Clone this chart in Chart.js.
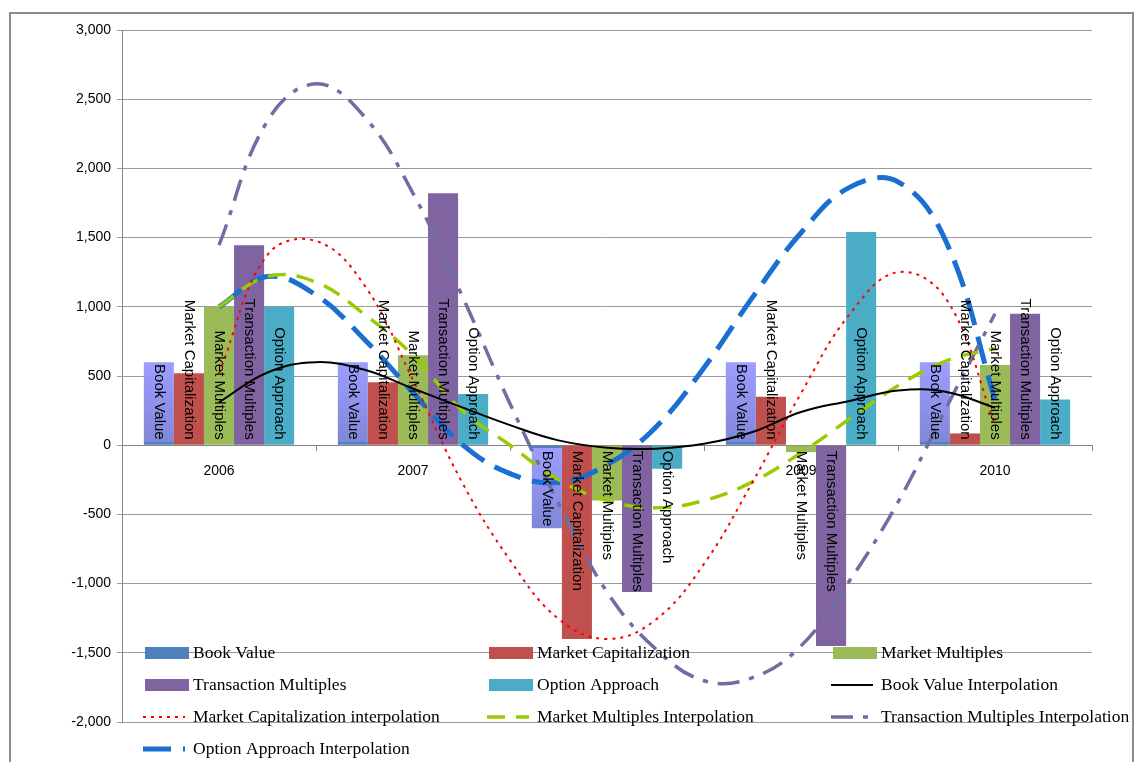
<!DOCTYPE html>
<html>
<head>
<meta charset="utf-8">
<script src="https://cdn.jsdelivr.net/npm/chart.js@4.4.1/dist/chart.umd.min.js"></script>
<style>
  html, body { margin: 0; padding: 0; background: #ffffff; }
  canvas { display: block; }
</style>
</head>
<body>
<canvas id="chart" width="1135" height="762"></canvas>
<script>
// Valuation results per year
const categories = ['2006', '2007', '2008', '2009', '2010'];
const bookValue = [600, 600, -600, 600, 600];
const marketCap = [520, 455, -1400, 350, 85];
const marketMultiples = [1000, 650, -400, -50, 580];
const transactionMultiples = [1445, 1820, -1060, -1450, 950];
const optionApproach = [1000, 370, -170, 1540, 330];

// Smoothed interpolation curves, sampled every quarter year
const curveYears = [2006, 2006.25, 2006.5, 2006.75, 2007, 2007.25, 2007.5, 2007.75, 2008,
                    2008.25, 2008.5, 2008.75, 2009, 2009.25, 2009.5, 2009.75, 2010];
const bookValueCurve = [310, 525, 600, 545, 410, 275, 145, 35, -18, -25, 10, 95, 240, 320, 395, 385, 270];
const marketCapCurve = [520, 1375, 1475, 1155, 470, -260, -830, -1255, -1400, -1262, -858, -267, 375, 945, 1250, 1053, 150];
const marketMultiplesCurve = [1000, 1219, 1178, 945, 650, 255, 0, -250, -400, -452, -400, -265, -55, 190, 430, 610, 700];
const transactionCurve = [1445, 2344, 2611, 2373, 1820, 1089, 300, -420, -1060, -1471, -1702, -1680, -1450, -980, -411, 274, 950];
const optionCurve = [1000, 1219, 1085, 764, 380, 10, -205, -270, -140, 128, 560, 1068, 1535, 1863, 1903, 1464, 330];

// Y axis ticks
const yMin = -2000, yMax = 3000, yStep = 500;

const years = categories.map(Number);
const toBars = vals => vals.map((v, i) => ({ x: years[i], y: v }));
const toPoints = vals => vals.map((v, i) => ({ x: curveYears[i], y: v }));

// Light periwinkle fill for Book Value bars with a darker strip at the base
function bookValueFill(ctx) {
  if (ctx.type !== 'data' || !ctx.chart.chartArea) return '#8C8CEB';
  const chart = ctx.chart;
  const ys = chart.scales.y;
  const value = ctx.raw.y;
  const y0 = ys.getPixelForValue(0);
  const y1 = ys.getPixelForValue(value);
  const top = Math.min(y0, y1), bot = Math.max(y0, y1);
  const h = Math.max(bot - top, 1);
  const f = Math.min(3 / h, 0.5);
  const g = chart.ctx.createLinearGradient(0, top, 0, bot);
  if (value >= 0) {
    g.addColorStop(0, '#9D9DFF');
    g.addColorStop(1 - f, '#8087D8');
    g.addColorStop(1 - f, '#4F81BD');
    g.addColorStop(1, '#4F81BD');
  } else {
    g.addColorStop(0, '#4F81BD');
    g.addColorStop(f, '#4F81BD');
    g.addColorStop(f, '#9D9DFF');
    g.addColorStop(1, '#8087D8');
  }
  return g;
}

const barCommon = { type: 'bar', order: 2, categoryPercentage: 0.775, barPercentage: 1.0, borderWidth: 0 };
const lineCommon = { type: 'line', order: 1, pointRadius: 0, tension: 0.4, fill: false };

// Background, outer frame, rotated bar captions and legend
const decorations = {
  id: 'decorations',
  beforeDraw(chart) {
    const c = chart.ctx;
    c.save();
    c.fillStyle = '#ffffff';
    c.fillRect(0, 0, chart.width, chart.height);
    c.strokeStyle = '#8c8c8c';
    c.lineWidth = 2;
    c.strokeRect(10, 13, 1123, 800);
    c.restore();
  },
  afterDatasetsDraw(chart) {
    const c = chart.ctx;
    c.save();
    c.font = '15px "Liberation Sans", Arial, sans-serif';
    c.fillStyle = '#000000';
    c.textBaseline = 'middle';
    chart.data.datasets.forEach((ds, di) => {
      if (ds.type !== 'bar') return;
      const meta = chart.getDatasetMeta(di);
      meta.data.forEach((el, i) => {
        const v = ds.data[i].y;
        c.save();
        c.translate(el.x, el.base);
        c.rotate(Math.PI / 2);
        if (v >= 0) {
          c.textAlign = 'right';
          c.fillText(ds.label, -5, 0);
        } else {
          c.textAlign = 'left';
          c.fillText(ds.label, 5, 0);
        }
        c.restore();
      });
    });
    c.restore();
  },
  afterDraw(chart) {
    const c = chart.ctx;
    const colX = [145, 489, 833];
    const rowY = [653, 685, 717, 749];
    c.save();
    c.font = '17.5px "Liberation Serif", "Times New Roman", serif';
    c.textBaseline = 'middle';
    c.textAlign = 'left';
    chart.data.datasets.forEach((ds, i) => {
      const x = colX[i % 3];
      const y = rowY[Math.floor(i / 3)];
      if (ds.type === 'bar') {
        c.fillStyle = ds.legendColor;
        c.fillRect(x, y - 6, 44, 12);
      } else {
        c.save();
        c.strokeStyle = ds.borderColor;
        c.lineWidth = ds.borderWidth;
        c.setLineDash(ds.borderDash || []);
        c.beginPath();
        c.moveTo(x - 2, y);
        c.lineTo(x + 40, y);
        c.stroke();
        c.restore();
      }
      c.fillStyle = '#000000';
      c.fillText(ds.label, x + 48, y);
    });
    c.restore();
  }
};

new Chart(document.getElementById('chart'), {
  data: {
    datasets: [
      { ...barCommon, label: 'Book Value', data: toBars(bookValue), backgroundColor: bookValueFill, legendColor: '#4F81BD' },
      { ...barCommon, label: 'Market Capitalization', data: toBars(marketCap), backgroundColor: '#C0504D', legendColor: '#C0504D' },
      { ...barCommon, label: 'Market Multiples', data: toBars(marketMultiples), backgroundColor: '#9BBB59', legendColor: '#9BBB59' },
      { ...barCommon, label: 'Transaction Multiples', data: toBars(transactionMultiples), backgroundColor: '#8064A2', legendColor: '#8064A2' },
      { ...barCommon, label: 'Option Approach', data: toBars(optionApproach), backgroundColor: '#4BACC6', legendColor: '#4BACC6' },
      { ...lineCommon, label: 'Book Value Interpolation', data: toPoints(bookValueCurve),
        borderColor: '#000000', borderWidth: 2 },
      { ...lineCommon, label: 'Market Capitalization interpolation', data: toPoints(marketCapCurve),
        borderColor: '#FF0000', borderWidth: 2, borderDash: [3, 5] },
      { ...lineCommon, label: 'Market Multiples Interpolation', data: toPoints(marketMultiplesCurve),
        borderColor: '#99CC00', borderWidth: 3.5, borderDash: [18, 11] },
      { ...lineCommon, label: 'Transaction Multiples Interpolation', data: toPoints(transactionCurve),
        borderColor: '#6E6EA3', borderWidth: 3.5, borderDash: [22, 10, 5, 10] },
      { ...lineCommon, label: 'Option Approach Interpolation', data: toPoints(optionCurve),
        borderColor: '#1A6FD0', borderWidth: 5, borderDash: [28, 12] }
    ]
  },
  options: {
    responsive: false,
    devicePixelRatio: 1,
    animation: false,
    layout: { padding: { left: 0, top: 30, right: 43, bottom: 40 } },
    plugins: {
      legend: { display: false },
      tooltip: { enabled: false }
    },
    scales: {
      x: {
        type: 'linear',
        position: { y: 0 },
        offset: false,
        z: 1,
        min: years[0] - 0.5,
        max: years[years.length - 1] + 0.5,
        afterBuildTicks: s => { s.ticks = years.map(v => ({ value: v })); },
        grid: { display: true, drawOnChartArea: false, drawTicks: true, tickLength: 5, offset: true, color: '#868686' },
        border: { display: true, color: '#868686', width: 1 },
        ticks: {
          color: '#000000',
          font: { family: '"Liberation Sans", Arial, sans-serif', size: 14 },
          padding: 13,
          maxRotation: 0,
          autoSkip: false,
          callback: v => String(v)
        }
      },
      y: {
        type: 'linear',
        min: yMin,
        max: yMax,
        afterFit: s => { s.width = 122; },
        ticks: {
          stepSize: yStep,
          color: '#000000',
          padding: 6,
          font: { family: '"Liberation Sans", Arial, sans-serif', size: 14 },
          callback: v => v.toLocaleString('en-US')
        },
        grid: { color: '#9a9a9a', lineWidth: 1, tickLength: 5, drawTicks: true },
        border: { display: true, color: '#868686', width: 1 }
      }
    }
  },
  plugins: [decorations]
});
</script>
</body>
</html>
